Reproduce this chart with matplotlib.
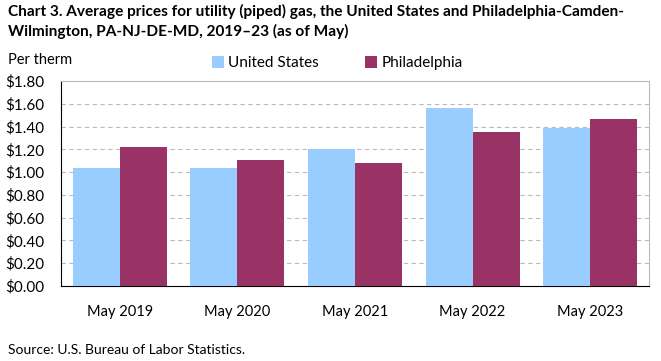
import numpy as np
import matplotlib
matplotlib.use('Agg')
import matplotlib.pyplot as plt
from matplotlib.ticker import FuncFormatter

plt.rcParams['font.family'] = ['Lato', 'DejaVu Sans']

# data
categories = ['May 2019', 'May 2020', 'May 2021', 'May 2022', 'May 2023']
us_prices = [1.035, 1.035, 1.20, 1.56, 1.385]
phila_prices = [1.22, 1.11, 1.08, 1.35, 1.47]
series_names = ['United States', 'Philadelphia']

fig = plt.figure(figsize=(6.61, 3.61), dpi=100)
ax = fig.add_axes([61 / 661, 1 - 286 / 361, (649 - 61) / 661, (286 - 81) / 361])

x = np.arange(len(categories))
w = 0.4
ax.bar(x - w / 2, us_prices, width=w, color='#99CCFF', label=series_names[0], zorder=3)
ax.bar(x + w / 2, phila_prices, width=w, color='#993366', label=series_names[1], zorder=3)

ax.set_xlim(-0.5, len(categories) - 0.5)
ax.set_ylim(0, 1.8)
ax.set_yticks(np.arange(0, 1.81, 0.2))
ax.yaxis.set_major_formatter(FuncFormatter(lambda v, p: f'${v:.2f}'))
ax.set_xticks(x)
ax.set_xticklabels(categories)
ax.tick_params(axis='x', length=0, pad=14, labelsize=10.5)
ax.tick_params(axis='y', length=0, pad=12, labelsize=11)

ax.grid(axis='y', color='#BBBBBB', linestyle=(0, (4, 3)), linewidth=0.8, zorder=0)
for side in ['top', 'right']:
    ax.spines[side].set_color('#BBBBBB')
for side in ['left', 'bottom']:
    ax.spines[side].set_color('black')

ax.legend(loc='lower left', bbox_to_anchor=(140 / 588, 1.0), ncol=2, frameon=False,
          fontsize=11, handlelength=0.8, handleheight=0.8, handletextpad=0.3,
          columnspacing=3.0, borderaxespad=0.3)

fig.text(8 / 661, 1 - 4 / 361,
         'Chart 3. Average prices for utility (piped) gas, the United States and Philadelphia-Camden-\n'
         'Wilmington, PA-NJ-DE-MD, 2019\u201323 (as of May)',
         fontsize=11.1, fontweight='bold', va='top', ha='left', linespacing=1.4)
fig.text(8 / 661, 1 - 60 / 361, 'Per therm', fontsize=10.5, va='center', ha='left')
fig.text(8 / 661, 1 - 350 / 361, 'Source: U.S. Bureau of Labor Statistics.', fontsize=10,
         va='center', ha='left')

fig.savefig('out.png', dpi=100)
